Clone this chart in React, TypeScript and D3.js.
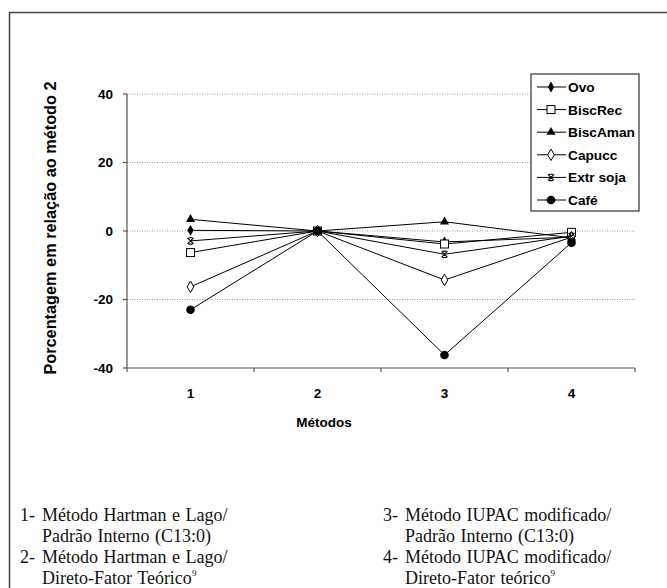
import React from 'react'
import * as d3 from 'd3'

const categories = ['1', '2', '3', '4']
const yTicks = [-40, -20, 0, 20, 40]

const ovo = [0.2, 0, -3.2, -1.8]
const biscRec = [-6.3, 0, -3.8, -0.4]
const biscAman = [3.4, 0, 2.7, -2.0]
const capucc = [-16.3, 0, -14.3, -1.8]
const extrSoja = [-2.9, 0, -6.8, -1.5]
const cafe = [-23.0, 0, -36.2, -3.4]

const seriesNames = ['Ovo', 'BiscRec', 'BiscAman', 'Capucc', 'Extr soja', 'Café']
const seriesValues = [ovo, biscRec, biscAman, capucc, extrSoja, cafe]
const markerKinds = ['diamond', 'square', 'triangle', 'diamondOpen', 'star', 'circle']

// caption: [number, text] per line, '' when the line is a continuation
const captionLeft = [
	['1-', 'Método Hartman e Lago/'],
	['', 'Padrão Interno (C13:0)'],
	['2-', 'Método Hartman e Lago/'],
	['', 'Direto-Fator Teórico'],
]
const captionRight = [
	['3-', 'Método IUPAC modificado/'],
	['', 'Padrão Interno (C13:0)'],
	['4-', 'Método IUPAC modificado/'],
	['', 'Direto-Fator teórico'],
]

const W = 667
const H = 588
const plot = { left: 127, right: 635, top: 94, bottom: 368 }
const sans = 'Liberation Sans, Arial, sans-serif'
const serif = 'Liberation Serif, Times New Roman, serif'

function Marker({ kind, x, y }: { kind: string; x: number; y: number }) {
	const t = `translate(${x},${y})`
	if (kind === 'diamond')
		return <path transform={t} d={d3.symbol(d3.symbolDiamond, 34)()!} fill="#000" />
	if (kind === 'square')
		return <rect x={x - 4} y={y - 4} width={8} height={8} fill="#fff" stroke="#000" strokeWidth={1} />
	if (kind === 'triangle')
		return <path transform={t} d={d3.symbol(d3.symbolTriangle, 36)()!} fill="#000" />
	if (kind === 'diamondOpen')
		return <path transform={t} d={d3.symbol(d3.symbolDiamond, 38)()!} fill="#fff" stroke="#000" strokeWidth={1} />
	if (kind === 'star')
		return (
			<path
				transform={t}
				d="M-3,-3L3,3M-3,3L3,-3M-2,-3.2H2M-2,3.2H2"
				stroke="#000"
				strokeWidth={1.1}
				fill="none"
			/>
		)
	return <circle cx={x} cy={y} r={4.3} fill="#000" />
}

function Caption({ lines, x0, x1 }: { lines: string[][]; x0: number; x1: number }) {
	return (
		<g fontFamily={serif} fontSize={18} fill="#111" wordSpacing={1}>
			{lines.map(([num, s], i) => {
				const by = 521 + i * 21
				return (
					<g key={i}>
						{num ? (
							<text x={x0} y={by}>
								{num}
							</text>
						) : null}
						<text x={x1} y={by}>
							{s}
							{i === 3 ? (
								<tspan fontSize={9} dy={-8}>
									9
								</tspan>
							) : null}
						</text>
					</g>
				)
			})}
		</g>
	)
}

export default function App() {
	const x = d3.scaleBand().domain(categories).range([plot.left, plot.right]).padding(0)
	const y = d3.scaleLinear().domain([-40, 40]).range([plot.bottom, plot.top])
	const cx = (c: string) => (x(c) as number) + x.bandwidth() / 2

	const line = d3
		.line<number>()
		.x((_, i) => cx(categories[i]))
		.y((v) => y(v))

	const bandEdges = categories.map((c) => x(c) as number).concat([plot.right])

	const legend = { x: 531, y: 74, w: 108, h: 137, row0: 87, step: 22.6 }

	return (
		<svg
			width={W}
			height={H}
			style={{ position: 'absolute', left: 0, top: 0, background: '#fff' }}
		>
			<rect width={W} height={H} fill="#fff" />
			<path d="M9.5,588V12.5H667" fill="none" stroke="#444" strokeWidth={1.5} />

			{/* grid */}
			{yTicks
				.filter((t) => t > -40)
				.map((t) => (
					<line
						key={'g' + t}
						x1={plot.left}
						x2={plot.right}
						y1={y(t)}
						y2={y(t)}
						stroke="#999"
						strokeWidth={1}
						strokeDasharray="1,1.5"
					/>
				))}

			{/* axes */}
			<line x1={plot.left} x2={plot.left} y1={plot.top} y2={plot.bottom} stroke="#555" strokeWidth={1.2} />
			<line x1={plot.left} x2={plot.right} y1={plot.bottom} y2={plot.bottom} stroke="#555" strokeWidth={1.2} />
			{yTicks.map((t) => (
				<g key={'t' + t}>
					<line x1={plot.left - 4} x2={plot.left} y1={y(t)} y2={y(t)} stroke="#555" strokeWidth={1.2} />
					<text
						x={113}
						y={y(t)}
						dy="0.36em"
						textAnchor="end"
						fontFamily={sans}
						fontWeight="bold"
						fontSize={13.5}
					>
						{t}
					</text>
				</g>
			))}
			{bandEdges.map((e, i) => (
				<line key={'e' + i} x1={e} x2={e} y1={plot.bottom} y2={plot.bottom + 4} stroke="#555" strokeWidth={1.2} />
			))}
			{categories.map((c) => (
				<text
					key={'c' + c}
					x={cx(c)}
					y={393}
					dy="0.36em"
					textAnchor="middle"
					fontFamily={sans}
					fontWeight="bold"
					fontSize={13.5}
				>
					{c}
				</text>
			))}
			<text x={324} y={422} dy="0.36em" textAnchor="middle" fontFamily={sans} fontWeight="bold" fontSize={13.5}>
				Métodos
			</text>
			<text
				transform="translate(50,228) rotate(-90)"
				dy="0.36em"
				textAnchor="middle"
				fontFamily={sans}
				fontWeight="bold"
				fontSize={16.3}
			>
				Porcentagem em relação ao método 2
			</text>

			{/* series */}
			{seriesValues.map((vals, si) => (
				<g key={'s' + si}>
					<path d={line(vals)!} fill="none" stroke="#000" strokeWidth={1} />
					{vals.map((v, i) => (
						<Marker key={i} kind={markerKinds[si]} x={cx(categories[i])} y={y(v)} />
					))}
				</g>
			))}

			{/* legend */}
			<rect x={legend.x} y={legend.y} width={legend.w} height={legend.h} fill="#fff" stroke="#333" strokeWidth={1.2} />
			{seriesNames.map((n, i) => {
				const ry = legend.row0 + i * legend.step
				return (
					<g key={'l' + n}>
						<line x1={537} x2={566} y1={ry} y2={ry} stroke="#000" strokeWidth={1} />
						<Marker kind={markerKinds[i]} x={551} y={ry} />
						<text x={568} y={ry} dy="0.36em" fontFamily={sans} fontWeight="bold" fontSize={13.7}>
							{n}
						</text>
					</g>
				)
			})}

			{/* caption */}
			<Caption lines={captionLeft} x0={20} x1={42} />
			<Caption lines={captionRight} x0={383} x1={405} />
		</svg>
	)
}
